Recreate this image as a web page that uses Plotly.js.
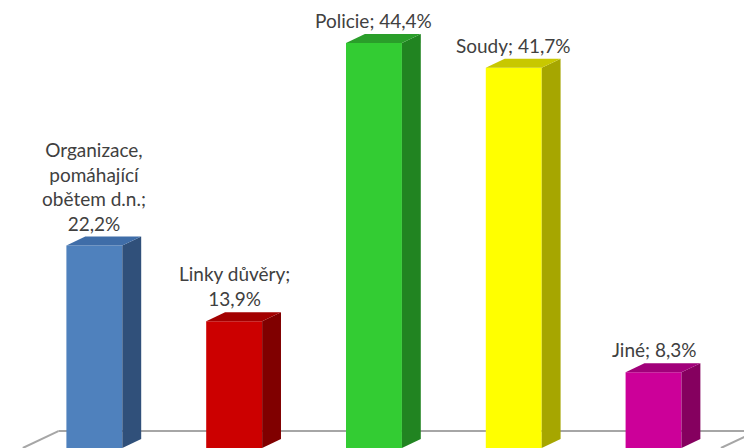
<!DOCTYPE html>
<html>
<head>
<meta charset="utf-8">
<script src="https://cdn.plot.ly/plotly-3.0.1.min.js"></script>
<style>html,body{margin:0;padding:0;background:#fff;}#chart{width:744px;height:448px;}</style>
</head>
<body>
<div id="chart"></div>
<script>
// Data
const categories = ["Organizace,<br>pomáhající<br>obětem d.n.", "Linky důvěry", "Policie", "Soudy", "Jiné"];
const values = [22.2, 13.9, 44.4, 41.7, 8.3];
const frontColors = ["#4F81BD", "#CC0000", "#33CC33", "#FFFF00", "#CC0099"];
const sideColors  = ["#30507A", "#800000", "#218421", "#A6A600", "#85005F"];
const topColors   = ["#3F6DA8", "#A30000", "#2A9E2A", "#C8C800", "#A1007A"];
const labelBreaks = [true, true, false, false, false];

// geometry (style)
const barW = 0.4, depthX = 0.135, depthY = 0.99;

const xs = values.map((v, i) => i);
const fmt = v => v.toFixed(1).replace('.', ',') + '%';

const traces = [];
traces.push({
  type: 'bar', x: xs, y: values, width: barW,
  marker: {color: frontColors, line: {width: 0}},
  hoverinfo: 'skip', showlegend: false
});
values.forEach((v, i) => {
  const l = i - barW / 2, r = i + barW / 2;
  traces.push({
    type: 'scatter', mode: 'lines', fill: 'toself',
    x: [r, r + depthX, r + depthX, r, r],
    y: [0, depthY, v + depthY, v, 0],
    fillcolor: sideColors[i], line: {width: 0}, hoverinfo: 'skip', showlegend: false
  });
  traces.push({
    type: 'scatter', mode: 'lines', fill: 'toself',
    x: [l, r, r + depthX, l + depthX, l],
    y: [v, v, v + depthY, v + depthY, v],
    fillcolor: topColors[i], line: {width: 0}, hoverinfo: 'skip', showlegend: false
  });
});

const annotations = values.map((v, i) => ({
  x: i, y: v, xref: 'x', yref: 'y',
  text: categories[i] + ';' + (labelBreaks[i] ? '<br>' : ' ') + fmt(v),
  showarrow: false, yanchor: 'bottom', xanchor: 'center', yshift: 9,
  font: {family: 'Lato, Carlito, sans-serif', size: 19, color: '#404040'}
}));

const floorY = 1.86, floorColor = '#A6A6A6';
const shapes = [
  {type: 'line', layer: 'below', xref: 'x', yref: 'y', x0: -0.512, y0: 0, x1: -0.2575, y1: floorY, line: {color: floorColor, width: 2}},
  {type: 'line', layer: 'below', xref: 'x', yref: 'y', x0: -0.2575, y0: floorY, x1: 4.8, y1: floorY, line: {color: floorColor, width: 2}},
  {type: 'line', layer: 'below', xref: 'x', yref: 'y', x0: 4.482, y0: 0, x1: 4.737, y1: floorY, line: {color: floorColor, width: 2}}
];

const layout = {
  width: 744, height: 448,
  margin: {l: 0, r: 0, t: 0, b: 0},
  paper_bgcolor: '#fff', plot_bgcolor: '#fff',
  xaxis: {range: [-0.675, 4.647], showgrid: false, zeroline: false, showticklabels: false, showline: false, fixedrange: true},
  yaxis: {range: [0, 49.12], showgrid: false, zeroline: false, showticklabels: false, showline: false, fixedrange: true},
  annotations: annotations, shapes: shapes, showlegend: false
};
Plotly.newPlot('chart', traces, layout, {displayModeBar: false, staticPlot: true});
</script>
</body>
</html>
